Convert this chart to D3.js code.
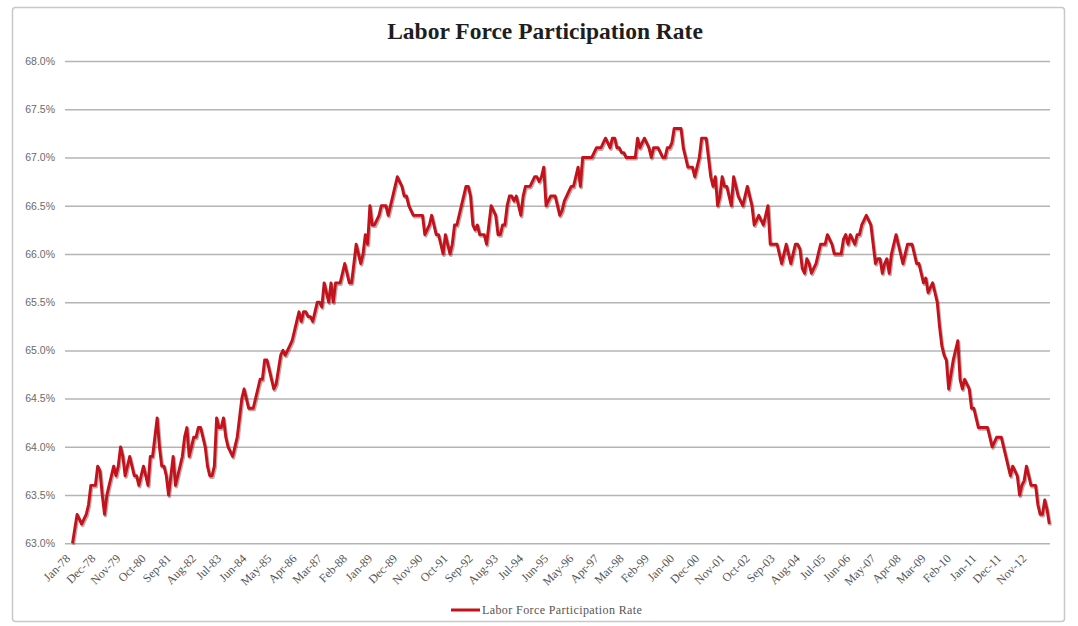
<!DOCTYPE html>
<html><head><meta charset="utf-8">
<script src="https://cdn.jsdelivr.net/npm/d3@7"></script>
<style>html,body{margin:0;padding:0;background:#fff;}</style>
</head><body>
<svg id="chart" width="1078" height="626"></svg>
<script>
const title = "Labor Force Participation Rate";
const seriesName = "Labor Force Participation Rate";
const startMonth = "1978-01";
const yTicks = [63.0, 63.5, 64.0, 64.5, 65.0, 65.5, 66.0, 66.5, 67.0, 67.5, 68.0];
const tickLabels = ["Jan-78","Dec-78","Nov-79","Oct-80","Sep-81","Aug-82","Jul-83","Jun-84","May-85","Apr-86","Mar-87","Feb-88","Jan-89","Dec-89","Nov-90","Oct-91","Sep-92","Aug-93","Jul-94","Jun-95","May-96","Apr-97","Mar-98","Feb-99","Jan-00","Dec-00","Nov-01","Oct-02","Sep-03","Aug-04","Jul-05","Jun-06","May-07","Apr-08","Mar-09","Feb-10","Jan-11","Dec-11","Nov-12"];
const values = [
63.0,63.15,63.3,63.25,63.2,63.25,63.3,63.4,63.6,63.6,63.6,63.8,
63.75,63.5,63.3,63.5,63.6,63.7,63.8,63.7,63.8,64.0,63.9,63.7,
63.8,63.9,63.8,63.7,63.7,63.6,63.7,63.8,63.7,63.6,63.9,63.9,
64.1,64.3,64.0,63.8,63.8,63.7,63.5,63.7,63.9,63.6,63.7,63.8,
63.9,64.1,64.2,63.9,64.0,64.1,64.1,64.2,64.2,64.1,64.0,63.8,
63.7,63.7,63.8,64.3,64.2,64.2,64.3,64.1,64.0,63.95,63.9,64.0,
64.1,64.3,64.5,64.6,64.5,64.4,64.4,64.4,64.5,64.6,64.7,64.7,
64.9,64.9,64.8,64.7,64.6,64.65,64.8,64.95,65.0,64.95,65.0,65.05,
65.1,65.2,65.3,65.4,65.3,65.4,65.4,65.35,65.35,65.3,65.4,65.5,
65.5,65.45,65.7,65.6,65.5,65.7,65.5,65.7,65.7,65.7,65.8,65.9,
65.8,65.7,65.7,65.9,66.1,66.0,65.9,66.0,66.2,66.1,66.5,66.3,
66.3,66.35,66.4,66.5,66.5,66.5,66.4,66.5,66.6,66.7,66.8,66.75,
66.7,66.6,66.6,66.5,66.45,66.4,66.4,66.4,66.4,66.4,66.2,66.25,
66.3,66.4,66.3,66.2,66.2,66.1,66.0,66.2,66.1,66.0,66.1,66.3,
66.3,66.4,66.5,66.6,66.7,66.7,66.6,66.3,66.25,66.3,66.2,66.2,
66.2,66.1,66.3,66.5,66.45,66.4,66.2,66.2,66.3,66.3,66.5,66.6,
66.6,66.55,66.6,66.5,66.4,66.6,66.7,66.7,66.7,66.75,66.8,66.8,
66.75,66.8,66.9,66.5,66.55,66.6,66.6,66.6,66.5,66.4,66.45,66.55,
66.6,66.65,66.7,66.7,66.8,66.9,66.7,67.0,67.0,67.0,67.0,67.0,
67.05,67.1,67.1,67.1,67.15,67.2,67.15,67.1,67.2,67.2,67.1,67.1,
67.05,67.05,67.0,67.0,67.0,67.0,67.0,67.2,67.1,67.15,67.2,67.15,
67.1,67.0,67.1,67.1,67.1,67.05,67.0,67.0,67.1,67.1,67.15,67.3,
67.3,67.3,67.3,67.1,67.0,66.9,66.9,66.9,66.8,66.9,67.0,67.2,
67.2,67.2,67.0,66.8,66.7,66.8,66.5,66.6,66.8,66.7,66.7,66.6,
66.5,66.8,66.7,66.6,66.55,66.5,66.6,66.7,66.6,66.5,66.3,66.35,
66.4,66.35,66.3,66.4,66.5,66.1,66.1,66.1,66.1,66.0,65.9,66.0,
66.1,66.0,65.9,66.0,66.1,66.1,66.05,65.85,65.8,65.95,65.9,65.8,
65.85,65.9,66.0,66.1,66.1,66.1,66.2,66.15,66.1,66.0,66.0,66.0,
66.0,66.15,66.2,66.1,66.2,66.15,66.1,66.2,66.2,66.3,66.35,66.4,
66.35,66.3,66.1,65.9,65.95,65.95,65.8,65.9,65.95,65.8,66.0,66.1,
66.2,66.1,66.0,65.9,66.0,66.1,66.1,66.1,66.0,65.9,65.9,65.8,
65.7,65.75,65.6,65.65,65.7,65.6,65.5,65.25,65.05,64.95,64.9,64.6,
64.75,64.9,65.0,65.1,64.7,64.6,64.7,64.65,64.6,64.4,64.4,64.3,
64.2,64.2,64.2,64.2,64.2,64.1,64.0,64.05,64.1,64.1,64.1,64.0,
63.9,63.8,63.7,63.8,63.75,63.7,63.5,63.6,63.65,63.8,63.7,63.6,
63.6,63.6,63.4,63.3,63.3,63.45,63.35,63.2
];

const fmt = d3.timeFormat("%b-%y");
const start = d3.timeParse("%Y-%m")(startMonth);
const categories = values.map((v, i) => fmt(d3.timeMonth.offset(start, i)));
const data = categories.map((c, i) => ({cat: c, v: values[i]}));

const svg = d3.select("#chart");

// outer frame
svg.append("rect").attr("x", 12.5).attr("y", 7.5).attr("width", 1052).attr("height", 614)
  .attr("rx", 3).attr("fill", "#fff").attr("stroke", "#c8c8c8").attr("stroke-width", 1.5);

const x = d3.scalePoint().domain(categories).range([72.5, 1049.3]);
const y = d3.scaleLinear().domain([63, 68]).range([543.3, 61]);
const gridX0 = 65, gridX1 = 1050;

// title
svg.append("text").attr("x", 545).attr("y", 39).attr("text-anchor", "middle")
  .attr("font-family", "'Liberation Serif', 'Times New Roman', serif")
  .attr("font-weight", "bold").attr("font-size", 23.5).attr("fill", "#1e1e1e").text(title);

// y axis with gridlines
const yAxis = d3.axisLeft(y).tickValues(yTicks).tickFormat(d => d.toFixed(1) + "%")
  .tickSize(-(gridX1 - gridX0)).tickPadding(10);
const gy = svg.append("g").attr("transform", `translate(${gridX0},0)`).call(yAxis);
gy.select(".domain").remove();
gy.selectAll(".tick line").attr("stroke", "#b4b4b4").attr("stroke-width", 1.5);
gy.selectAll(".tick text").attr("font-family", "'Liberation Sans', Arial, sans-serif")
  .attr("font-size", 10.5).attr("fill", "#6a6a6a");

// x axis labels
const xAxis = d3.axisBottom(x).tickValues(tickLabels).tickSize(0).tickPadding(0);
const gx = svg.append("g").attr("transform", `translate(0,${y(63)})`).call(xAxis);
gx.select(".domain").remove();
gx.selectAll(".tick text")
  .attr("font-family", "'Liberation Serif', 'Times New Roman', serif")
  .attr("font-size", 12).attr("fill", "#555")
  .attr("text-anchor", "end").attr("dy", 0)
  .attr("transform", "translate(-2,16) rotate(-45)");

// line
const line = d3.line().x(d => x(d.cat)).y(d => y(d.v)).curve(d3.curveLinear);
svg.append("path").datum(data).attr("d", line)
  .attr("transform", "translate(1,1.5)")
  .attr("fill", "none").attr("stroke", "rgba(90,0,0,0.35)").attr("stroke-width", 3.2)
  .attr("stroke-linejoin", "round");
svg.append("path").datum(data).attr("d", line)
  .attr("fill", "none").attr("stroke", "#c3121c").attr("stroke-width", 2.9)
  .attr("stroke-linejoin", "round");

// legend
const lg = svg.append("g").attr("transform", "translate(451,610)");
lg.append("line").attr("x1", 0).attr("x2", 29).attr("y1", 0).attr("y2", 0)
  .attr("stroke", "#c3121c").attr("stroke-width", 3);
lg.append("text").attr("x", 31).attr("y", 4)
  .attr("font-family", "'Liberation Serif', 'Times New Roman', serif")
  .attr("font-size", 12).attr("letter-spacing", 0.4).attr("fill", "#555").text(seriesName);
</script>
</body></html>
